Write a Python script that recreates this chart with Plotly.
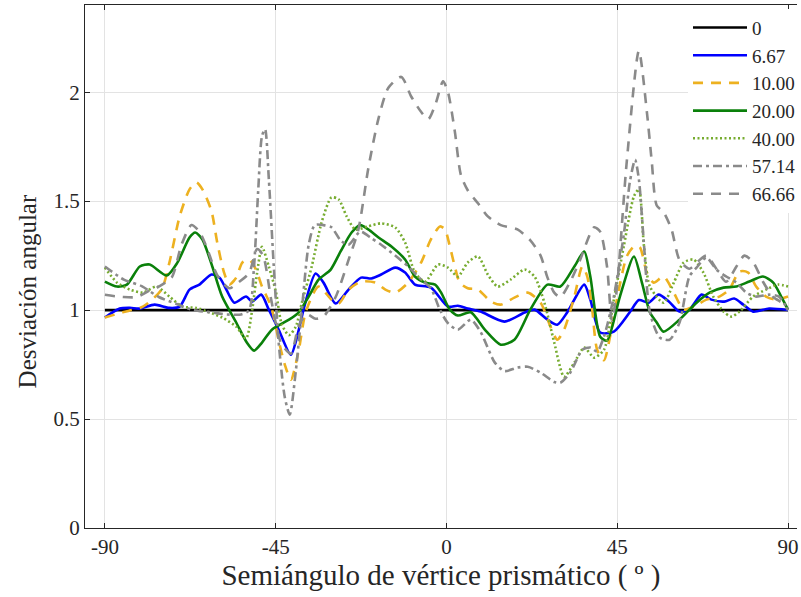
import plotly.graph_objects as go

# Semiángulo de vértice (grados) y desviación angular relativa por serie
x_0 = [-90, 90]
y_0 = [1.0, 1.0]

x_667 = [-90, -86.1, -83.4, -80.8, -76.9, -73.0, -70.3, -67.7, -65.1, -61.9, -59.8, -58.0, -55.9, -52.8,
         -51.2, -48.8, -46.8, -44.2, -41.0, -38.9, -37.6, -34.5, -32.4, -29.2, -25.8, -22.5, -19.8, -17.2,
         -13.5, -10.9, -8.3, -4.1, 0.4, 3.0, 5.6, 9.0, 15.3, 20.6, 23.2, 26.6, 29.2, 31.8, 36.3, 37.9, 40.5,
         44.1, 48.3, 50.7, 53.3, 55.9, 58.6, 61.4, 64.0, 67.2, 69.8, 73.2, 75.8, 78.2, 80.8, 85.0, 90.0]
y_667 = [0.966, 1.007, 1.01, 1.007, 1.025, 1.01, 1.016, 1.094, 1.117, 1.163, 1.149, 1.094, 1.034, 1.062,
         1.039, 1.071, 1.002, 0.91, 0.795, 0.91, 1.007, 1.168, 1.126, 1.03, 1.094, 1.149, 1.145, 1.163,
         1.195, 1.172, 1.117, 1.103, 1.016, 1.02, 1.007, 0.993, 0.947, 0.989, 1.002, 0.956, 0.933, 0.989,
         1.117, 1.048, 0.897, 0.901, 0.99, 1.046, 1.034, 1.071, 1.039, 0.993, 1.002, 1.071, 1.048, 1.039,
         1.053, 1.025, 0.993, 1.007, 1.0]

x_10 = [-90, -85.3, -80.0, -75.1, -73.0, -70.3, -67.7, -65.9, -64.3, -61.9, -60.4, -58.6, -57.2, -55.4,
        -53.8, -52.0, -50.2, -48.6, -46.2, -44.2, -42.6, -41.0, -38.9, -37.1, -33.7, -30.3, -28.4, -25.8,
        -22.5, -18.7, -16.1, -13.5, -10.1, -6.7, -4.1, -1.7, -0.4, 0.9, 2.2, 3.5, 5.6, 8.3, 11.7, 14.3,
        17.9, 21.4, 24.8, 27.4, 29.2, 31.0, 33.7, 35.8, 37.1, 38.4, 39.7, 41.5, 43.1, 44.9, 47.5, 49.4,
        50.9, 52.8, 54.6, 57.2, 59.9, 62.5, 65.1, 68.5, 71.9, 74.5, 77.2, 79.5, 81.6, 84.2, 86.8, 90.0]
y_10 = [0.966, 0.99, 1.016, 1.094, 1.218, 1.43, 1.554, 1.586, 1.554, 1.453, 1.31, 1.172, 1.117, 1.149,
        1.218, 1.232, 1.186, 1.108, 1.016, 0.86, 0.75, 0.68, 0.818, 0.99, 1.108, 1.048, 1.03, 1.094,
        1.131, 1.126, 1.094, 1.08, 1.126, 1.218, 1.324, 1.384, 1.37, 1.292, 1.2, 1.126, 1.1, 1.094,
        1.039, 1.025, 1.057, 1.08, 1.034, 0.924, 0.864, 0.91, 1.062, 1.2, 1.154, 1.002, 0.818, 0.77,
        0.878, 1.048, 1.246, 1.292, 1.29, 1.172, 1.126, 1.154, 1.08, 1.002, 1.016, 1.048, 1.062, 1.094,
        1.177, 1.172, 1.108, 1.062, 1.048, 1.062]

x_20 = [-90, -86.8, -84.2, -80.8, -78.2, -73.7, -70.9, -67.7, -66.2, -64.3, -61.7, -59.1, -55.4, -52.6,
        -50.7, -48.6, -46.0, -41.5, -38.9, -36.3, -33.7, -30.5, -27.9, -25.0, -22.7, -20.6, -17.9, -14.5,
        -10.9, -8.3, -5.6, -3.0, -1.4, 0.9, 3.0, 6.4, 10.1, 14.3, 17.9, 22.1, 26.6, 30.0, 33.7, 36.3,
        37.9, 40.5, 42.3, 45.7, 49.4, 51.5, 53.6, 55.4, 57.2, 61.4, 65.9, 69.3, 73.0, 76.4, 79.8, 83.4,
        86.1, 88.2, 90.0]
y_20 = [1.131, 1.108, 1.117, 1.2, 1.209, 1.159, 1.218, 1.333, 1.356, 1.324, 1.2, 1.062, 0.943, 0.851,
        0.814, 0.851, 0.91, 0.956, 0.99, 1.062, 1.14, 1.186, 1.269, 1.356, 1.39, 1.37, 1.333, 1.292,
        1.232, 1.154, 1.126, 1.117, 1.08, 1.002, 0.975, 0.99, 0.91, 0.841, 0.864, 1.002, 1.117, 1.108,
        1.2, 1.269, 1.154, 0.878, 0.86, 1.062, 1.246, 1.126, 0.99, 0.943, 0.901, 0.956, 1.034, 1.08,
        1.103, 1.108, 1.131, 1.154, 1.126, 1.062, 1.002]

x_40 = [-90, -86.8, -83.4, -80.0, -76.4, -73.0, -69.6, -65.9, -62.5, -59.1, -55.4, -52.8, -51.2, -49.9,
        -48.6, -46.8, -44.9, -43.4, -41.5, -39.7, -38.1, -35.5, -32.9, -30.3, -28.4, -26.3, -24.0, -20.6,
        -17.2, -13.5, -10.9, -8.3, -5.6, -2.2, 0.4, 3.0, 5.6, 8.3, 10.9, 13.5, 16.9, 20.6, 23.2, 25.8,
        28.4, 31.0, 33.7, 36.3, 38.9, 41.5, 44.1, 46.8, 49.4, 50.7, 52.0, 53.6, 57.2, 59.9, 62.5, 65.1,
        67.7, 70.3, 73.0, 75.1, 77.2, 80.8, 84.2, 87.4, 90.0]
y_40 = [1.195, 1.126, 1.094, 1.08, 1.108, 1.062, 1.016, 1.01, 0.99, 0.966, 0.924, 0.87, 1.0, 1.17,
        1.29, 1.2, 1.08, 0.935, 0.885, 0.924, 1.034, 1.2, 1.402, 1.517, 1.508, 1.43, 1.37, 1.384,
        1.398, 1.379, 1.31, 1.172, 1.131, 1.209, 1.195, 1.154, 1.218, 1.246, 1.163, 1.108, 1.14, 1.186,
        1.154, 1.034, 0.851, 0.694, 0.759, 0.828, 0.782, 0.818, 1.048, 1.3, 1.522, 1.554, 1.3, 1.108,
        1.034, 1.126, 1.218, 1.232, 1.172, 1.062, 0.993, 0.97, 0.993, 1.062, 1.094, 1.117, 1.108]

x_5714 = [-90, -85.0, -80.3, -75.8, -71.4, -66.7, -62.2, -57.8, -54.1, -52.0, -50.7, -49.6, -48.6, -47.8,
          -46.8, -45.5, -44.2, -42.6, -41.3, -39.7, -38.1, -36.3, -34.7, -32.4, -30.3, -27.9, -25.8,
          -22.7, -19.8, -17.2, -13.5, -10.1, -6.7, -4.1, -1.7, 0.4, 3.0, 6.4, 9.0, 12.7, 15.3, 18.7, 21.4,
          24.8, 28.4, 30.0, 32.6, 35.8, 37.9, 39.7, 41.5, 44.1, 46.8, 48.3, 49.7, 50.7, 52.0, 53.6, 56.2,
          58.8, 61.4, 64.0, 65.9, 68.5, 71.1, 73.7, 76.4, 79.0, 81.6, 85.0, 87.6, 90.0]
y_5714 = [1.2, 1.14, 1.11, 1.06, 1.03, 1.0, 0.99, 0.98, 0.98, 1.0, 1.2, 1.55, 1.8, 1.83, 1.6, 1.2, 0.85,
          0.6, 0.52, 0.72, 1.0, 1.3, 1.39, 1.39, 1.38, 1.32, 1.3, 1.36, 1.33, 1.3, 1.25, 1.2, 1.14, 1.1,
          1.0, 0.94, 0.91, 0.956, 0.9, 0.76, 0.72, 0.736, 0.74, 0.713, 0.67, 0.667, 0.713, 0.818, 0.828,
          0.81, 0.878, 1.062, 1.356, 1.586, 1.69, 1.6, 1.31, 0.99, 0.874, 0.864, 0.943, 1.154, 1.195,
          1.241, 1.186, 1.154, 1.126, 1.08, 1.062, 1.071, 1.062, 1.0]

x_6666 = [-90, -85.3, -81.6, -78.2, -75.6, -72.4, -69.8, -67.2, -65.1, -63.0, -60.4, -57.2, -54.6, -52.0,
          -49.9, -48.3, -46.2, -43.6, -41.0, -38.9, -36.8, -34.5, -32.4, -29.2, -25.8, -23.2, -20.6,
          -17.9, -15.3, -11.9, -9.3, -6.7, -4.8, -2.8, -0.9, 0.4, 2.2, 3.8, 5.6, 8.3, 10.9, 14.3, 18.7,
          22.1, 24.8, 26.6, 28.4, 30.0, 32.6, 35.2, 38.9, 40.5, 42.3, 43.6, 44.9, 47.5, 50.7, 52.8, 54.1,
          55.4, 57.2, 59.3, 61.4, 64.0, 66.7, 68.5, 71.1, 73.7, 76.4, 78.5, 80.8, 83.4, 86.1, 88.7, 90.0]
y_6666 = [1.07, 1.06, 1.06, 1.09, 1.11, 1.15, 1.3, 1.39, 1.36, 1.28, 1.16, 1.1, 1.13, 1.17, 1.28, 1.25,
          1.05, 0.85, 0.8, 0.93, 0.98, 0.96, 0.97, 1.06, 1.23, 1.37, 1.65, 1.88, 2.02, 2.07, 1.98, 1.91,
          1.876, 1.95, 2.05, 2.0, 1.82, 1.62, 1.55, 1.49, 1.43, 1.39, 1.37, 1.32, 1.25, 1.15, 1.08, 1.06,
          1.13, 1.23, 1.38, 1.36, 1.2, 0.95, 1.1, 1.68, 2.19, 1.91, 1.68, 1.48, 1.45, 1.37, 1.23, 1.19,
          1.23, 1.25, 1.19, 1.13, 1.2, 1.25, 1.22, 1.13, 1.06, 1.03, 1.0]

x_ticks = [-90, -45, 0, 45, 90]
x_tick_text = ["-90", "-45", "0", "45", "90"]
y_ticks = [0, 0.5, 1, 1.5, 2]
y_tick_text = ["0", "0.5", "1", "1.5", "2"]

series = [
    ("0", x_0, y_0, "#000000", "solid", "linear"),
    ("6.67", x_667, y_667, "#0000ff", "solid", "spline"),
    ("10.00", x_10, y_10, "#edb120", "10px,8px", "spline"),
    ("20.00", x_20, y_20, "#0a800a", "solid", "spline"),
    ("40.00", x_40, y_40, "#77ac30", "2px,2.5px", "spline"),
    ("57.14", x_5714, y_5714, "#8a8a8a", "9px,4px,3px,4px", "spline"),
    ("66.66", x_6666, y_6666, "#8a8a8a", "10px,8px", "spline"),
]

fig = go.Figure()
for name, xs, ys, color, dash, shape in series:
    fig.add_trace(go.Scatter(
        x=xs, y=ys, name=name, mode="lines",
        line=dict(color=color, width=2.6, dash=dash, shape=shape, smoothing=0.7),
    ))

font_family = "Liberation Serif"
fig.update_layout(
    width=801, height=597,
    margin=dict(l=85, r=0, t=5, b=69),
    paper_bgcolor="white", plot_bgcolor="white",
    font=dict(family=font_family, color="#262626", size=20),
    showlegend=True,
    legend=dict(
        x=0.847, xanchor="left", y=0.993, yanchor="top",
        bgcolor="white", borderwidth=0,
        font=dict(family=font_family, size=19, color="#262626"),
        itemwidth=54, tracegroupgap=0,
    ),
    xaxis=dict(
        range=[-95.24, 92.36], tickvals=x_ticks, ticktext=x_tick_text,
        showgrid=True, gridcolor="#e3e3e3", gridwidth=1,
        showline=True, linecolor="#262626", linewidth=1.2, mirror="ticks",
        ticks="inside", ticklen=5, tickcolor="#262626",
        tickfont=dict(size=21), zeroline=False, ticklabeloverflow="allow",
        title=dict(text="Semiángulo de vértice prismático ( º )", font=dict(size=29), standoff=1),
    ),
    yaxis=dict(
        range=[0, 2.4], tickvals=y_ticks, ticktext=y_tick_text,
        showgrid=True, gridcolor="#e3e3e3", gridwidth=1,
        showline=True, linecolor="#262626", linewidth=1.2,
        ticks="inside", ticklen=5, tickcolor="#262626",
        tickfont=dict(size=21), zeroline=False,
    ),
    annotations=[dict(
        text="Desviación angular", textangle=-90,
        xref="paper", yref="paper", x=-0.081, y=0.453,
        xanchor="center", yanchor="middle", showarrow=False,
        font=dict(family=font_family, size=25, color="#262626"),
    )],
)

fig.write_html("out.html")
